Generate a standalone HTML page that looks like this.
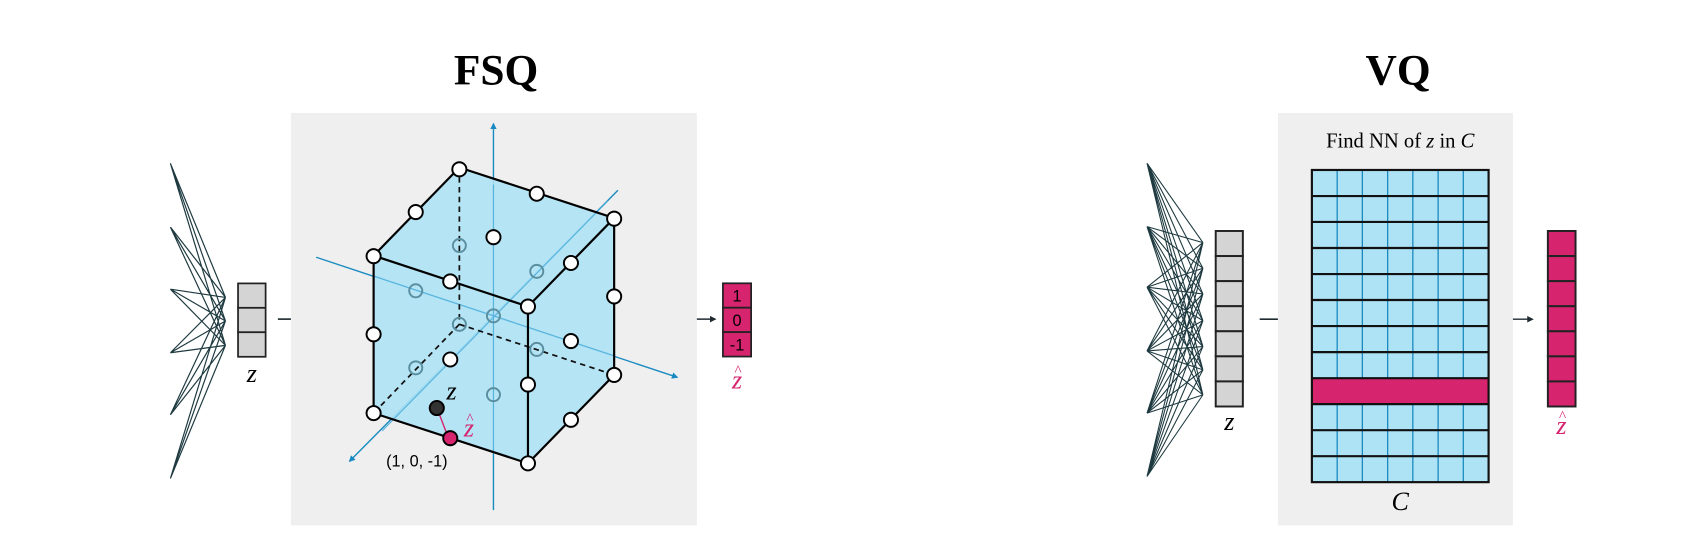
<!DOCTYPE html>
<html><head><meta charset="utf-8"><style>html,body{margin:0;padding:0;background:#fff}svg{display:block}</style></head>
<body>
<svg width="1702" height="540" viewBox="0 0 1568 497.5" preserveAspectRatio="none" xmlns="http://www.w3.org/2000/svg">
<defs>
<marker id="ab" markerWidth="6" markerHeight="6" refX="5" refY="3" orient="auto" markerUnits="userSpaceOnUse"><path d="M0,0 L6,3 L0,6 z" fill="#1a8bc0"/></marker>
<marker id="ak" markerWidth="6" markerHeight="6" refX="5" refY="3" orient="auto" markerUnits="userSpaceOnUse"><path d="M0,0 L6,3 L0,6 z" fill="#1e2a30"/></marker>
</defs>
<g font-family="Liberation Serif, serif" font-weight="bold" font-size="40" text-anchor="middle" fill="#000">
<text x="457" y="78">FSQ</text>
<text x="1288" y="78">VQ</text>
</g>
<rect x="268" y="104" width="374" height="380" fill="#efefef"/>
<g stroke="#1e3a40" stroke-width="1.1">
<path d="M157,150.6L207.7,274M157,150.6L207.7,295.7M157,150.6L207.7,318.2
M157,209.3L207.7,274M157,209.3L207.7,295.7M157,209.3L207.7,318.2
M157,266.4L207.7,274M157,266.4L207.7,295.7M157,266.4L207.7,318.2
M157,325L207.7,274M157,325L207.7,295.7M157,325L207.7,318.2
M157,382.1L207.7,274M157,382.1L207.7,295.7M157,382.1L207.7,318.2
M157,440.8L207.7,274M157,440.8L207.7,295.7M157,440.8L207.7,318.2"/>
</g>
<g stroke="#222" stroke-width="1.6" fill="#d4d4d4">
<rect x="219.3" y="261.1" width="25.4" height="22.5"/><rect x="219.3" y="283.6" width="25.4" height="22.5"/><rect x="219.3" y="306.1" width="25.4" height="22.6"/>
</g>
<text x="232" y="352" font-family="Liberation Serif, serif" font-style="italic" font-size="24" text-anchor="middle">z</text>
<line x1="256" y1="294" x2="268" y2="294" stroke="#1e2a30" stroke-width="1.5"/>
<line x1="642" y1="294" x2="659" y2="294" stroke="#1e2a30" stroke-width="1.3" marker-end="url(#ak)"/>
<g stroke="#222" stroke-width="1.6" fill="#d6246e">
<rect x="666" y="261" width="26" height="22.5"/><rect x="666" y="283.5" width="26" height="22.5"/><rect x="666" y="306" width="26" height="22.5"/>
</g>
<g font-family="Liberation Sans, sans-serif" font-size="15" text-anchor="middle" fill="#000">
<text x="679" y="278">1</text><text x="679" y="300.5">0</text><text x="679" y="323">-1</text>
</g>
<text x="679" y="358" font-family="Liberation Serif, serif" font-style="italic" font-size="24" text-anchor="middle" fill="#d6246e">z</text>
<text x="680" y="346" font-family="Liberation Serif, serif" font-size="14" text-anchor="middle" fill="#d6246e">^</text>
<g stroke="#1a8bc0" stroke-width="1.3">
<line x1="454.6" y1="470" x2="454.6" y2="114" marker-end="url(#ab)"/>
<line x1="291.3" y1="237" x2="624" y2="347.6" marker-end="url(#ab)"/>
<line x1="569.3" y1="175.3" x2="322" y2="425" marker-end="url(#ab)"/>
</g>
<g fill="#aee2f5" fill-opacity="0.9" stroke="none">
<polygon points="423.2,154.3 565.8,200.9 486.4,282.4 344.2,235.5"/>
<polygon points="344.2,235.5 486.4,282.4 486.4,426.9 344.2,380.6"/>
<polygon points="486.4,282.4 565.8,200.9 565.8,345.4 486.4,426.9"/>
</g>
<g stroke="#4fb0dc" stroke-width="1.1" opacity="0.9">
<line x1="454.6" y1="170" x2="454.6" y2="418"/>
<line x1="344.2" y1="254.3" x2="565.8" y2="327.8"/>
<line x1="560" y1="185" x2="352" y2="397"/>
</g>
<g stroke="#111" stroke-width="1.6" stroke-dasharray="5,4" fill="none">
<line x1="423.2" y1="154.3" x2="423.2" y2="298.8"/>
<line x1="423.2" y1="298.8" x2="565.8" y2="345.4"/>
<line x1="423.2" y1="298.8" x2="344.2" y2="380.6"/>
</g>
<g stroke="#000" stroke-width="2" fill="none" stroke-linejoin="round">
<polygon points="423.2,154.3 565.8,200.9 565.8,345.4 486.4,426.9 344.2,380.6 344.2,235.5"/>
<polyline points="344.2,235.5 486.4,282.4 565.8,200.9"/>
<line x1="486.4" y1="282.4" x2="486.4" y2="426.9"/>
</g>
<g fill="none" stroke="#5a8fa0" stroke-width="1.8">
<circle cx="423.2" cy="226.2" r="6"/><circle cx="494.5" cy="250" r="6"/><circle cx="383" cy="267.9" r="6"/>
<circle cx="454.6" cy="291" r="6"/><circle cx="423.2" cy="298.8" r="6"/><circle cx="494.5" cy="321.9" r="6"/>
<circle cx="383" cy="338.9" r="6"/><circle cx="454.6" cy="363.6" r="6"/>
</g>
<g fill="#fff" stroke="#000" stroke-width="1.8">
<circle cx="423.2" cy="156" r="6.5"/><circle cx="494.5" cy="178.5" r="6.5"/><circle cx="565.8" cy="201.5" r="6.5"/>
<circle cx="344.2" cy="236" r="6.5"/><circle cx="383" cy="195.4" r="6.5"/><circle cx="414.8" cy="259.3" r="6.5"/>
<circle cx="486.4" cy="282.4" r="6.5"/><circle cx="526" cy="242.3" r="6.5"/><circle cx="565.8" cy="273.1" r="6.5"/>
<circle cx="565.8" cy="345.4" r="6.5"/><circle cx="486.4" cy="354.3" r="6.5"/><circle cx="526" cy="386.8" r="6.5"/>
<circle cx="486.4" cy="426.9" r="6.5"/><circle cx="344.2" cy="380.6" r="6.5"/><circle cx="344.2" cy="308" r="6.5"/>
<circle cx="454.6" cy="218.5" r="6.5"/><circle cx="414.8" cy="331.2" r="6.5"/><circle cx="526" cy="314.2" r="6.5"/>
</g>
<line x1="403" y1="377" x2="411" y2="398" stroke="#d6246e" stroke-width="1.3"/>
<circle cx="414.8" cy="403.7" r="6.5" fill="#d6246e" stroke="#000" stroke-width="1.8"/>
<circle cx="402.4" cy="375.9" r="6.5" fill="#333" stroke="#000" stroke-width="1.8"/>
<text x="416" y="368" font-family="Liberation Serif, serif" font-style="italic" font-size="24" text-anchor="middle">z</text>
<text x="432" y="402" font-family="Liberation Serif, serif" font-style="italic" font-size="24" text-anchor="middle" fill="#d6246e">z</text>
<text x="433" y="390" font-family="Liberation Serif, serif" font-size="14" text-anchor="middle" fill="#d6246e">^</text>
<text x="384" y="430" font-family="Liberation Sans, sans-serif" font-size="15" text-anchor="middle">(1, 0, -1)</text>

<rect x="1177.3" y="104" width="216.5" height="380" fill="#efefef"/>
<text x="1290" y="136" font-family="Liberation Serif, serif" font-size="19" text-anchor="middle">Find NN of <tspan font-style="italic">z</tspan> in <tspan font-style="italic">C</tspan></text>
<g stroke="#1e3a40" stroke-width="1">
<path d="
M1056.7,150.4L1108.2,223.5M1056.7,150.4L1108.2,247.1M1056.7,150.4L1108.2,270.8M1056.7,150.4L1108.2,295.4M1056.7,150.4L1108.2,319.3M1056.7,150.4L1108.2,340.8M1056.7,150.4L1108.2,363.8
M1056.7,208.8L1108.2,223.5M1056.7,208.8L1108.2,247.1M1056.7,208.8L1108.2,270.8M1056.7,208.8L1108.2,295.4M1056.7,208.8L1108.2,319.3M1056.7,208.8L1108.2,340.8M1056.7,208.8L1108.2,363.8
M1056.7,264.6L1108.2,223.5M1056.7,264.6L1108.2,247.1M1056.7,264.6L1108.2,270.8M1056.7,264.6L1108.2,295.4M1056.7,264.6L1108.2,319.3M1056.7,264.6L1108.2,340.8M1056.7,264.6L1108.2,363.8
M1056.7,323.3L1108.2,223.5M1056.7,323.3L1108.2,247.1M1056.7,323.3L1108.2,270.8M1056.7,323.3L1108.2,295.4M1056.7,323.3L1108.2,319.3M1056.7,323.3L1108.2,340.8M1056.7,323.3L1108.2,363.8
M1056.7,380.6L1108.2,223.5M1056.7,380.6L1108.2,247.1M1056.7,380.6L1108.2,270.8M1056.7,380.6L1108.2,295.4M1056.7,380.6L1108.2,319.3M1056.7,380.6L1108.2,340.8M1056.7,380.6L1108.2,363.8
M1056.7,439L1108.2,223.5M1056.7,439L1108.2,247.1M1056.7,439L1108.2,270.8M1056.7,439L1108.2,295.4M1056.7,439L1108.2,319.3M1056.7,439L1108.2,340.8M1056.7,439L1108.2,363.8"/>
</g>
<g stroke="#222" stroke-width="1.8" fill="#d4d4d4">
<rect x="1120" y="212.8" width="25" height="23.1"/><rect x="1120" y="235.9" width="25" height="23.1"/><rect x="1120" y="259" width="25" height="23.1"/><rect x="1120" y="282.1" width="25" height="23.1"/><rect x="1120" y="305.2" width="25" height="23.1"/><rect x="1120" y="328.3" width="25" height="23.1"/><rect x="1120" y="351.4" width="25" height="23.1"/>
</g>
<text x="1132.5" y="396" font-family="Liberation Serif, serif" font-style="italic" font-size="24" text-anchor="middle">z</text>
<line x1="1160.5" y1="294.1" x2="1177.3" y2="294.1" stroke="#1e2a30" stroke-width="1.5"/>
<line x1="1393.8" y1="294.1" x2="1412" y2="294.1" stroke="#1e2a30" stroke-width="1.3" marker-end="url(#ak)"/>
<g stroke="#222" stroke-width="1.8" fill="#d6246e">
<rect x="1426" y="212.8" width="25.5" height="23.1"/><rect x="1426" y="235.9" width="25.5" height="23.1"/><rect x="1426" y="259" width="25.5" height="23.1"/><rect x="1426" y="282.1" width="25.5" height="23.1"/><rect x="1426" y="305.2" width="25.5" height="23.1"/><rect x="1426" y="328.3" width="25.5" height="23.1"/><rect x="1426" y="351.4" width="25.5" height="23.1"/>
</g>
<text x="1438.5" y="400" font-family="Liberation Serif, serif" font-style="italic" font-size="24" text-anchor="middle" fill="#d6246e">z</text>
<text x="1439.5" y="388" font-family="Liberation Serif, serif" font-size="14" text-anchor="middle" fill="#d6246e">^</text>
<rect x="1208.6" y="156.6" width="162.8" height="287.6" fill="#aee2f5"/>
<g stroke="#1a8bc0" stroke-width="1.2">
<line x1="1231.9" y1="156.6" x2="1231.9" y2="444.2"/><line x1="1255.1" y1="156.6" x2="1255.1" y2="444.2"/><line x1="1278.4" y1="156.6" x2="1278.4" y2="444.2"/><line x1="1301.6" y1="156.6" x2="1301.6" y2="444.2"/><line x1="1324.9" y1="156.6" x2="1324.9" y2="444.2"/><line x1="1348.1" y1="156.6" x2="1348.1" y2="444.2"/>
</g>
<rect x="1208.6" y="348.4" width="162.8" height="24" fill="#d6246e"/>
<g stroke="#111" stroke-width="2">
<line x1="1208.6" y1="180.6" x2="1371.4" y2="180.6"/><line x1="1208.6" y1="204.5" x2="1371.4" y2="204.5"/><line x1="1208.6" y1="228.5" x2="1371.4" y2="228.5"/><line x1="1208.6" y1="252.5" x2="1371.4" y2="252.5"/><line x1="1208.6" y1="276.4" x2="1371.4" y2="276.4"/><line x1="1208.6" y1="300.4" x2="1371.4" y2="300.4"/><line x1="1208.6" y1="324.4" x2="1371.4" y2="324.4"/><line x1="1208.6" y1="348.4" x2="1371.4" y2="348.4"/><line x1="1208.6" y1="372.3" x2="1371.4" y2="372.3"/><line x1="1208.6" y1="396.3" x2="1371.4" y2="396.3"/><line x1="1208.6" y1="420.3" x2="1371.4" y2="420.3"/>
</g>
<rect x="1208.6" y="156.6" width="162.8" height="287.6" fill="none" stroke="#111" stroke-width="2"/>
<text x="1290" y="470" font-family="Liberation Serif, serif" font-style="italic" font-size="24" text-anchor="middle">C</text>
</svg>
</body></html>
